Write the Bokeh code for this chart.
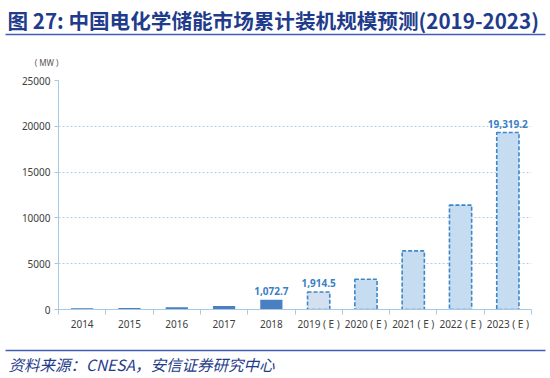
from bokeh.plotting import figure
from bokeh.models import (Range1d, LinearAxis, FixedTicker, ColumnDataSource)
from bokeh.layouts import column
from bokeh.embed import file_html
from bokeh.resources import INLINE
from bokeh.core.properties import value

# ---------------- data ----------------
categories = ["2014", "2015", "2016", "2017", "2018",
              "2019 ( E )", "2020 ( E )", "2021 ( E )", "2022 ( E )", "2023 ( E )"]
values = [150, 170, 250, 390, 1072.7, 1914.5, 3300, 6400, 11400, 19319.2]
forecast = [False, False, False, False, False, True, True, True, True, True]
value_labels = ["", "", "", "", "1,072.7", "1,914.5", "", "", "", "19,319.2"]
y_ticks = [0, 5000, 10000, 15000, 20000, 25000]

title_text = "图 27: 中国电化学储能市场累计装机规模预测(2019-2023)"
unit_text = "( MW )"
source_text = "资料来源：CNESA，安信证券研究中心"

NAVY = "#1f3c8c"
AXIS = "#a9c9e3"
CJK = "'Noto Sans CJK SC', 'Noto Sans', sans-serif"
TICKFONT = "'Noto Sans', sans-serif"

n = len(categories)
centers = [i + 0.5 for i in range(n)]


def no_align(fig):
    if "frame_align" in type(fig).properties():
        fig.frame_align = False


# ---------------- header (pixel coordinates, y downward) ----------------
HEAD_H = 68
head = figure(width=550, height=HEAD_H, x_range=Range1d(0, 550), y_range=Range1d(HEAD_H, 0),
              output_backend="svg", toolbar_location=None, min_border=0,
              min_border_left=0, min_border_right=0, min_border_top=0, min_border_bottom=0,
              x_axis_location=None, y_axis_location=None)
head.outline_line_color = None
head.xgrid.visible = False
head.ygrid.visible = False
no_align(head)
head.text(x=[7], y=[19], text=[title_text], text_font=value(CJK), text_font_size="20.6px",
          text_font_style="bold", text_color=NAVY, text_baseline="middle", text_align="left")
head.segment(x0=[5], y0=[34], x1=[545], y1=[34], line_color="#3f5fae", line_width=1.6)
head.text(x=[46], y=[62], text=[unit_text], text_font=value(TICKFONT), text_font_size="8px",
          text_color="#555555", text_baseline="middle", text_align="center")

# ---------------- chart ----------------
FL, FW, FH = 58, 473, 229
FT_IN = 80 - HEAD_H          # frame top inside the chart figure
CH_H = 345 - HEAD_H          # chart figure height
p = figure(width=550, height=CH_H, frame_width=FW, frame_height=FH,
           min_border_left=FL, min_border_right=550 - FL - FW, min_border_top=FT_IN,
           min_border_bottom=CH_H - FT_IN - FH,
           x_range=Range1d(0, n), y_range=Range1d(0, 25000),
           output_backend="svg", toolbar_location=None, x_axis_location=None)
p.outline_line_color = None
no_align(p)

fills = []
for c, f in zip(categories, forecast):
    if not f:
        fills.append("#4a80c2")
    elif c.startswith("2019"):
        fills.append("#d4dff0")
    else:
        fills.append("#c6dcf1")

act = ColumnDataSource(dict(x=[c for c, f in zip(centers, forecast) if not f],
                            top=[v for v, f in zip(values, forecast) if not f],
                            fill=[fl for fl, f in zip(fills, forecast) if not f]))
est = ColumnDataSource(dict(x=[c for c, f in zip(centers, forecast) if f],
                            top=[v for v, f in zip(values, forecast) if f],
                            fill=[fl for fl, f in zip(fills, forecast) if f]))

p.vbar(x="x", top="top", width=0.47, source=act, fill_color="fill", line_color=None)
p.vbar(x="x", top="top", width=0.47, source=est, fill_color="fill",
       line_color="#3d86c8", line_dash="4 2", line_width=1.6)

lab = ColumnDataSource(dict(x=[c for c, l in zip(centers, value_labels) if l],
                            y=[v for v, l in zip(values, value_labels) if l],
                            t=[l for l in value_labels if l]))
p.text(x="x", y="y", text="t", source=lab, text_align="center", text_baseline="bottom",
       y_offset=-5, text_font=value(TICKFONT), text_font_size="10px",
       text_font_style="bold", text_color="#3b7fc4")

# y axis
p.yaxis.ticker = FixedTicker(ticks=y_ticks)
p.yaxis.axis_line_color = AXIS
p.yaxis.major_tick_line_color = AXIS
p.yaxis.major_tick_in = 0
p.yaxis.major_tick_out = 4
p.yaxis.minor_tick_line_color = None
p.yaxis.major_label_text_font = TICKFONT
p.yaxis.major_label_text_font_size = "10px"
p.yaxis.major_label_text_color = "#404040"
p.yaxis.major_label_standoff = 4

p.xgrid.visible = False
p.ygrid.ticker = FixedTicker(ticks=y_ticks[1:])
p.ygrid.grid_line_color = "#9fc1de"
p.ygrid.grid_line_dash = "2 2"
p.ygrid.grid_line_width = 0.8

# x axis: tick marks between categories + category labels
bounds = list(range(n + 1))
tick_axis = LinearAxis(ticker=FixedTicker(ticks=bounds),
                       major_label_overrides={b: "" for b in bounds},
                       major_label_text_font_size="1px", major_tick_in=0, major_tick_out=5,
                       minor_tick_line_color=None, axis_line_color=AXIS,
                       major_tick_line_color=AXIS, major_label_standoff=0)
p.add_layout(tick_axis, "below")
cat_axis = LinearAxis(ticker=FixedTicker(ticks=centers),
                      major_label_overrides={c: cat for c, cat in zip(centers, categories)},
                      axis_line_color=None, major_tick_line_color=None, minor_tick_line_color=None,
                      major_label_standoff=-4, major_label_text_font=TICKFONT,
                      major_label_text_font_size="10px",
                      major_label_text_color="#404040")
p.add_layout(cat_axis, "below")

# ---------------- footer (pixel coordinates, y downward) ----------------
FOOT_H = 378 - 345
foot = figure(width=550, height=FOOT_H, x_range=Range1d(0, 550), y_range=Range1d(FOOT_H, 0),
              output_backend="svg", toolbar_location=None, min_border=0,
              min_border_left=0, min_border_right=0, min_border_top=0, min_border_bottom=0,
              x_axis_location=None, y_axis_location=None)
foot.outline_line_color = None
foot.xgrid.visible = False
foot.ygrid.visible = False
no_align(foot)
foot.segment(x0=[5], y0=[5], x1=[545], y1=[5], line_color="#3f5fae", line_width=1.6)
foot.text(x=[8], y=[18], text=[source_text], text_font=value(CJK), text_font_size="15.5px",
          text_font_style="italic", text_color=NAVY, text_baseline="middle", text_align="left")

layout = column(head, p, foot, spacing=0)
open("out.html", "w").write(file_html(layout, INLINE))
